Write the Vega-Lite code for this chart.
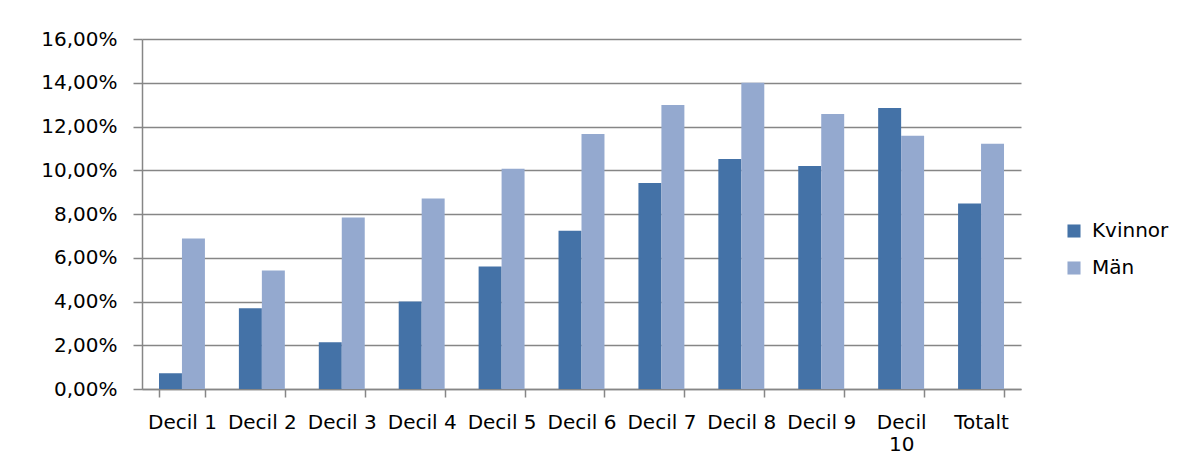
{
  "$schema": "https://vega.github.io/schema/vega-lite/v6.json",
  "width": 879,
  "height": 350,
  "autosize": {"type": "none"},
  "padding": {"left": 142, "top": 39, "right": 159, "bottom": 84},
  "background": "white",
  "data": {
    "values": [
      {"grupp": "Decil 1", "kon": "Kvinnor", "andel": 0.0072},
      {"grupp": "Decil 1", "kon": "Män", "andel": 0.0688},
      {"grupp": "Decil 2", "kon": "Kvinnor", "andel": 0.0369},
      {"grupp": "Decil 2", "kon": "Män", "andel": 0.0542},
      {"grupp": "Decil 3", "kon": "Kvinnor", "andel": 0.0214},
      {"grupp": "Decil 3", "kon": "Män", "andel": 0.0784},
      {"grupp": "Decil 4", "kon": "Kvinnor", "andel": 0.0400},
      {"grupp": "Decil 4", "kon": "Män", "andel": 0.0871},
      {"grupp": "Decil 5", "kon": "Kvinnor", "andel": 0.0560},
      {"grupp": "Decil 5", "kon": "Män", "andel": 0.1007},
      {"grupp": "Decil 6", "kon": "Kvinnor", "andel": 0.0723},
      {"grupp": "Decil 6", "kon": "Män", "andel": 0.1166},
      {"grupp": "Decil 7", "kon": "Kvinnor", "andel": 0.0942},
      {"grupp": "Decil 7", "kon": "Män", "andel": 0.1298},
      {"grupp": "Decil 8", "kon": "Kvinnor", "andel": 0.1052},
      {"grupp": "Decil 8", "kon": "Män", "andel": 0.1400},
      {"grupp": "Decil 9", "kon": "Kvinnor", "andel": 0.1020},
      {"grupp": "Decil 9", "kon": "Män", "andel": 0.1257},
      {"grupp": "Decil 10", "kon": "Kvinnor", "andel": 0.1285},
      {"grupp": "Decil 10", "kon": "Män", "andel": 0.1158},
      {"grupp": "Totalt", "kon": "Kvinnor", "andel": 0.0848},
      {"grupp": "Totalt", "kon": "Män", "andel": 0.1121}
    ]
  },
  "mark": {"type": "bar"},
  "encoding": {
    "x": {
      "field": "grupp",
      "type": "nominal",
      "sort": null,
      "title": null,
      "scale": {"paddingInner": 0.425, "paddingOuter": 0.2125},
      "axis": {
        "labelAngle": 0,
        "labelFont": "DejaVu Sans",
        "labelFontSize": 20,
        "labelColor": "#000000",
        "labelPadding": 15,
        "labelLineHeight": 22,
        "labelExpr": "datum.value == 'Decil 10' ? ['Decil', '10'] : datum.value",
        "domainColor": "#868686",
        "domainWidth": 1.5,
        "tickColor": "#868686",
        "tickWidth": 1.5,
        "tickSize": 8,
        "tickBand": "extent",
        "grid": false
      }
    },
    "xOffset": {
      "field": "kon",
      "type": "nominal",
      "scale": {"paddingInner": 0, "paddingOuter": 0}
    },
    "y": {
      "field": "andel",
      "type": "quantitative",
      "title": null,
      "scale": {"domain": [0, 0.16], "nice": false},
      "axis": {
        "values": [0, 0.02, 0.04, 0.06, 0.08, 0.1, 0.12, 0.14, 0.16],
        "labelExpr": "replace(format(datum.value, '.2%'), '.', ',')",
        "labelFont": "DejaVu Sans",
        "labelFontSize": 20,
        "labelColor": "#000000",
        "labelPadding": 16,
        "domainColor": "#868686",
        "domainWidth": 1.5,
        "tickColor": "#868686",
        "tickWidth": 1.5,
        "tickSize": 9,
        "gridColor": "#868686",
        "gridWidth": 1.5,
        "gridOpacity": 1
      }
    },
    "color": {
      "field": "kon",
      "type": "nominal",
      "title": null,
      "scale": {"domain": ["Kvinnor", "Män"], "range": ["#4472A7", "#94A9CF"]},
      "legend": {
        "orient": "none",
        "legendX": 922,
        "legendY": 182,
        "symbolType": "square",
        "symbolSize": 170,
        "symbolStrokeWidth": 0,
        "labelFont": "DejaVu Sans",
        "labelFontSize": 20,
        "labelColor": "#000000",
        "labelOffset": 8,
        "rowPadding": 17
      }
    }
  },
  "config": {
    "view": {"stroke": null}
  }
}
